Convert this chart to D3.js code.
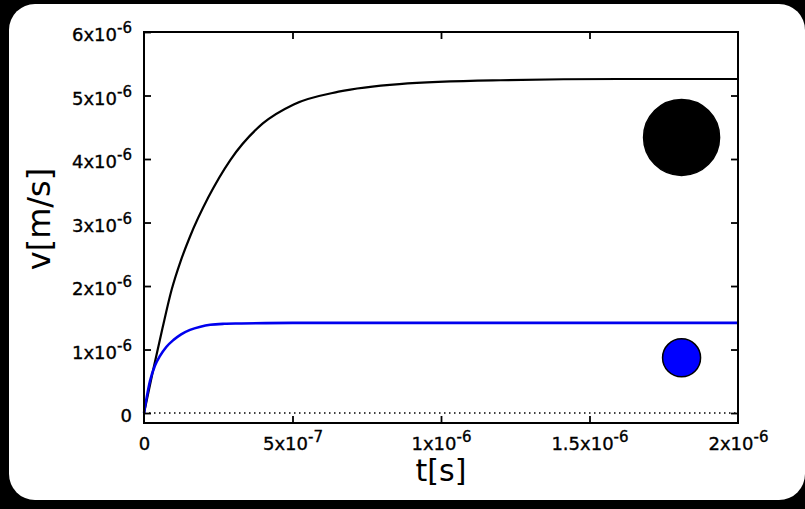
<!DOCTYPE html>
<html>
<head>
<meta charset="utf-8">
<script src="https://cdn.jsdelivr.net/npm/d3@7"></script>
<style>
  html, body { margin: 0; padding: 0; background: #000; }
  svg { display: block; }
</style>
</head>
<body>
<div id="chart"></div>
<script>
const width = 805, height = 509
const margin = {left: 144, right: 67, top: 32, bottom: 86}
const font = "DejaVu Sans"

// values (t in s, v in m/s)
const t_large = [0, 0.031e-6, 0.062e-6, 0.093e-6, 0.124e-6, 0.155e-6, 0.217e-6, 0.29e-6,
    0.40e-6, 0.504e-6, 0.655e-6, 0.86e-6, 1.2e-6, 1.6e-6, 2.0e-6]
const v_large = [0, 0.68e-6, 1.33e-6, 1.94e-6, 2.40e-6, 2.78e-6, 3.40e-6, 3.98e-6,
    4.56e-6, 4.86e-6, 5.06e-6, 5.18e-6, 5.24e-6, 5.26e-6, 5.26e-6]

const t_small = [0, 0.010e-6, 0.020e-6, 0.037e-6, 0.054e-6, 0.075e-6, 0.099e-6, 0.125e-6,
    0.155e-6, 0.19e-6, 0.223e-6, 0.27e-6, 0.324e-6, 0.5e-6, 1.0e-6, 2.0e-6]
const v_small = [0, 0.27e-6, 0.50e-6, 0.75e-6, 0.90e-6, 1.04e-6, 1.15e-6, 1.24e-6,
    1.31e-6, 1.36e-6, 1.39e-6, 1.405e-6, 1.41e-6, 1.42e-6, 1.42e-6, 1.42e-6]

// sphere pictograms, placed in data coordinates
const spheres = [
    {t: 1.81e-6, v: 4.34e-6, r: 38, fill: "#000000"},
    {t: 1.81e-6, v: 0.87e-6, r: 19, fill: "#0000ff"},
]

const x_ticks = [0, 5e-7, 1e-6, 1.5e-6, 2e-6]
const x_labels = [["0"], ["5x10", "-7"], ["1x10", "-6"], ["1.5x10", "-6"], ["2x10", "-6"]]
const y_ticks = [0, 1e-6, 2e-6, 3e-6, 4e-6, 5e-6, 6e-6]
const y_labels = [["0"], ["1x10", "-6"], ["2x10", "-6"], ["3x10", "-6"], ["4x10", "-6"], ["5x10", "-6"], ["6x10", "-6"]]

const x = d3.scaleLinear().domain([0, 2e-6]).range([margin.left, width - margin.right])
const y = d3.scaleLinear().domain([-0.157e-6, 6e-6]).range([height - margin.bottom, margin.top])

const svg = d3.select("#chart").append("svg")
    .attr("width", width).attr("height", height)

// black backdrop + white rounded panel
svg.append("rect").attr("width", width).attr("height", height).attr("fill", "#000")
svg.append("rect")
    .attr("x", 9).attr("y", 4).attr("width", 796).attr("height", 496)
    .attr("rx", 26).attr("ry", 26)
    .attr("fill", "#fff")

function superLabel(sel, labels) {
    sel.each(function (d, i) {
        const txt = d3.select(this).text(null)
        const lab = labels[i]
        txt.append("tspan").text(lab[0])
        if (lab.length > 1) {
            txt.append("tspan").attr("dy", -8).attr("font-size", 15).text(lab[1])
        }
    })
}

// axes, ticks pointing inward
const gx = svg.append("g")
    .attr("transform", `translate(0,${y.range()[0]})`)
    .call(d3.axisBottom(x).tickValues(x_ticks).tickSize(-7).tickPadding(16))
gx.selectAll("text")
    .attr("font-family", font).attr("font-size", 18).attr("fill", "#000")
    .attr("stroke", "#000").attr("stroke-width", 0.35)
    .attr("dy", null).attr("y", 27)
    .call(superLabel, x_labels)

const gy = svg.append("g")
    .attr("transform", `translate(${x.range()[0]},0)`)
    .call(d3.axisLeft(y).tickValues(y_ticks).tickSize(-7).tickPadding(12))
gy.selectAll("text")
    .attr("font-family", font).attr("font-size", 18).attr("fill", "#000")
    .attr("stroke", "#000").attr("stroke-width", 0.35)
    .attr("dy", null).attr("y", 8.5).attr("x", -12)
    .call(superLabel, y_labels)

svg.append("g")
    .attr("transform", `translate(${x.range()[1]},0)`)
    .call(d3.axisRight(y).tickValues(y_ticks.slice(0, -1)).tickSize(-7).tickFormat(""))
svg.append("g")
    .attr("transform", `translate(0,${y.range()[1]})`)
    .call(d3.axisTop(x).tickValues(x_ticks.slice(1, -1)).tickSize(-7).tickFormat(""))

svg.selectAll(".domain").remove()
svg.selectAll(".tick line").attr("stroke", "#000").attr("stroke-width", 1.8)
// drop ticks that sit on the frame corners
gx.selectAll(".tick line").filter(d => d === 0 || d === 2e-6).remove()

// zero line
svg.append("line")
    .attr("x1", x(0)).attr("x2", x(2e-6))
    .attr("y1", y(0)).attr("y2", y(0))
    .attr("stroke", "#000").attr("stroke-width", 1.5)
    .attr("stroke-dasharray", "1.5,3.5")

const line = d3.line()
    .x(d => x(d[0])).y(d => y(d[1]))
    .curve(d3.curveMonotoneX)

svg.append("path")
    .datum(d3.zip(t_large, v_large))
    .attr("d", line)
    .attr("fill", "none").attr("stroke", "#000").attr("stroke-width", 2.2)

svg.append("path")
    .datum(d3.zip(t_small, v_small))
    .attr("d", line)
    .attr("fill", "none").attr("stroke", "#0000ee").attr("stroke-width", 2.6)

svg.selectAll("circle.sphere")
    .data(spheres)
    .enter().append("circle")
    .attr("class", "sphere")
    .attr("cx", d => x(d.t)).attr("cy", d => y(d.v))
    .attr("r", d => d.r)
    .attr("fill", d => d.fill)
    .attr("stroke", "#000").attr("stroke-width", 1.5)

// plot frame
svg.append("rect")
    .attr("x", x.range()[0]).attr("y", y.range()[1])
    .attr("width", x.range()[1] - x.range()[0])
    .attr("height", y.range()[0] - y.range()[1])
    .attr("fill", "none").attr("stroke", "#000").attr("stroke-width", 2)

// axis titles
svg.append("text")
    .attr("x", (x.range()[0] + x.range()[1]) / 2).attr("y", 481)
    .attr("text-anchor", "middle")
    .attr("font-family", font).attr("font-size", 30)
    .text("t[s]")

svg.append("text")
    .attr("transform", "translate(50,219) rotate(-90)")
    .attr("text-anchor", "middle")
    .attr("font-family", font).attr("font-size", 32)
    .text("v[m/s]")
</script>
</body>
</html>
